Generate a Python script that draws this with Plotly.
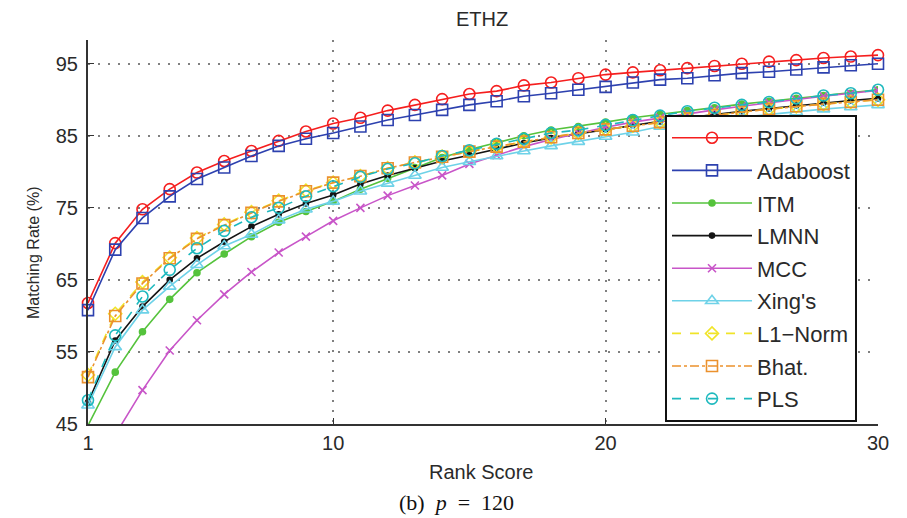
import plotly.graph_objects as go

rank = list(range(1, 31))

rdc = [61.8, 70.1, 74.8, 77.6, 79.9, 81.5, 82.9, 84.3, 85.6, 86.7,
       87.5, 88.5, 89.3, 90.1, 90.8, 91.2, 92.0, 92.4, 93.0, 93.5,
       93.8, 94.1, 94.4, 94.7, 95.0, 95.3, 95.5, 95.8, 96.0, 96.2]
adaboost = [60.8, 69.2, 73.6, 76.6, 79.0, 80.6, 82.2, 83.6, 84.6, 85.4,
            86.3, 87.2, 87.9, 88.6, 89.3, 89.8, 90.5, 90.9, 91.4, 91.8,
            92.4, 92.8, 93.0, 93.4, 93.7, 93.9, 94.2, 94.5, 94.8, 95.0]
itm = [44.8, 52.2, 57.8, 62.3, 66.0, 68.6, 71.0, 73.0, 74.5, 75.9,
       77.6, 79.1, 80.6, 82.0, 83.1, 84.1, 85.0, 85.8, 86.3, 86.9,
       87.5, 88.0, 88.5, 88.9, 89.4, 89.8, 90.2, 90.6, 90.9, 91.4]
lmnn = [48.0, 56.6, 61.3, 65.0, 68.0, 70.3, 72.4, 74.1, 75.6, 76.8,
        78.3, 79.5, 80.5, 81.5, 82.3, 83.2, 84.0, 84.7, 85.3, 85.9,
        86.5, 87.0, 87.5, 88.0, 88.4, 88.8, 89.2, 89.6, 89.9, 90.2]
mcc = [36.0, 43.5, 49.7, 55.2, 59.4, 63.0, 66.1, 68.8, 71.0, 73.2,
       75.0, 76.7, 78.1, 79.5, 81.1, 82.3, 83.5, 84.5, 85.4, 86.2,
       86.9, 87.5, 88.1, 88.6, 89.1, 89.6, 90.0, 90.5, 90.9, 91.3]
xing = [47.6, 55.7, 60.8, 64.1, 67.1, 69.7, 71.3, 73.3, 74.8, 75.9,
        77.3, 78.4, 79.5, 80.6, 81.4, 82.2, 82.9, 83.6, 84.2, 84.9,
        85.5, 86.3, 86.8, 87.2, 87.6, 88.0, 88.3, 88.7, 89.0, 89.3]
l1norm = [51.8, 60.3, 64.7, 68.1, 70.8, 72.7, 74.4, 76.0, 77.4, 78.5,
          79.4, 80.5, 81.3, 82.1, 82.8, 83.5, 84.2, 84.8, 85.4, 85.9,
          86.4, 86.9, 87.4, 87.9, 88.3, 88.7, 89.1, 89.4, 89.7, 90.0]
bhat = [51.5, 60.0, 64.5, 68.0, 70.7, 72.6, 74.3, 75.9, 77.3, 78.5,
        79.4, 80.5, 81.3, 82.1, 82.8, 83.5, 84.2, 84.8, 85.4, 85.9,
        86.4, 86.9, 87.4, 87.9, 88.3, 88.7, 89.1, 89.4, 89.7, 90.0]
pls = [48.3, 57.3, 62.7, 66.4, 69.4, 71.8, 73.7, 75.0, 76.6, 78.0,
       79.3, 80.4, 81.2, 82.2, 83.0, 83.9, 84.6, 85.4, 85.8, 86.5,
       87.2, 87.8, 88.4, 88.9, 89.3, 89.7, 90.2, 90.6, 90.9, 91.4]

series_names = ["RDC", "Adaboost", "ITM", "LMNN", "MCC", "Xing's", "L1\u2212Norm", "Bhat.", "PLS"]
series_values = [rdc, adaboost, itm, lmnn, mcc, xing, l1norm, bhat, pls]

x_tick_vals = [1, 10, 20, 30]
y_tick_vals = [45, 55, 65, 75, 85, 95]

styles = [
    dict(color="rgb(245,30,30)", dash="solid", symbol="circle-open", size=11, clip=False),
    dict(color="rgb(45,65,175)", dash="solid", symbol="square-open", size=11, clip=False),
    dict(color="rgb(85,195,60)", dash="solid", symbol="circle", size=6, clip=True),
    dict(color="rgb(20,20,20)", dash="solid", symbol="circle", size=5, clip=False),
    dict(color="rgb(200,85,200)", dash="solid", symbol="x-thin-open", size=8, clip=True),
    dict(color="rgb(110,210,232)", dash="solid", symbol="triangle-up-open", size=11, clip=False),
    dict(color="rgb(240,228,40)", dash="dash", symbol="diamond-open", size=10, clip=False),
    dict(color="rgb(235,145,45)", dash="dashdot", symbol="square-open", size=11, clip=False),
    dict(color="rgb(30,185,190)", dash="dash", symbol="circle-open", size=11, clip=False),
]

# page body has an 8px margin; plot area in screen px: x 88..878, y 40..424
PL, PR, PT, PB = 88, 878, 40, 424
W, H = 907 - 8, 518 - 8


def px(sx):
    return (sx - PL) / (PR - PL)


def py(sy):
    return (PB - sy) / (PB - PT)


fig = go.Figure()
for i, (name, vals, st) in enumerate(zip(series_names, series_values, styles)):
    fig.add_trace(go.Scatter(
        x=rank, y=vals, name=name, mode="lines+markers",
        legendgroup="g%d" % i,
        cliponaxis=st["clip"],
        line=dict(color=st["color"], width=1.6, dash=st["dash"]),
        marker=dict(symbol=st["symbol"], size=st["size"], color=st["color"],
                    line=dict(color=st["color"], width=1.6)),
    ))

axis_common = dict(
    showgrid=True, gridcolor="#808080", griddash="2px,8px", gridwidth=1.6,
    showline=True, linecolor="#333", linewidth=2,
    ticks="inside", ticklen=6, tickcolor="#333",
    tickfont=dict(size=20, color="#2a2a2a"), zeroline=False,
)

fig.update_layout(
    width=W, height=H,
    margin=dict(l=PL - 8, r=907 - PR, t=PT - 8, b=518 - PB),
    paper_bgcolor="white", plot_bgcolor="white",
    font=dict(family="Liberation Sans, Arial, sans-serif", color="#2a2a2a"),
    showlegend=True,
    legend=dict(
        x=px(665), y=py(115), xanchor="left", yanchor="top",
        bgcolor="white", bordercolor="#111", borderwidth=2,
        font=dict(size=22, color="#2a2a2a"),
        tracegroupgap=1, itemwidth=80,
    ),
    xaxis=dict(range=[1, 30], tickvals=x_tick_vals, **axis_common),
    yaxis=dict(range=[45, 98.3], tickvals=y_tick_vals, ticklabelstandoff=4, **axis_common),
    annotations=[
        dict(text="ETHZ", x=px(482), y=py(19.5), xref="paper", yref="paper",
             showarrow=False, xanchor="center", yanchor="middle",
             font=dict(size=20, color="#2a2a2a")),
        dict(text="Matching Rate (%)", textangle=-90, x=px(33), y=py(253),
             xref="paper", yref="paper", showarrow=False,
             xanchor="center", yanchor="middle", font=dict(size=16, color="#2a2a2a")),
        dict(text="Rank Score", x=px(481), y=py(472),
             xref="paper", yref="paper", showarrow=False,
             xanchor="center", yanchor="middle", font=dict(size=20, color="#2a2a2a")),
        dict(text="(b)\u2002<i>p</i>\u2002=\u2002120", x=px(456), y=py(502),
             xref="paper", yref="paper", showarrow=False,
             xanchor="center", yanchor="middle",
             font=dict(size=22, family="Liberation Serif, Times New Roman, serif", color="#111")),
    ],
)

fig.write_html("out.html")
